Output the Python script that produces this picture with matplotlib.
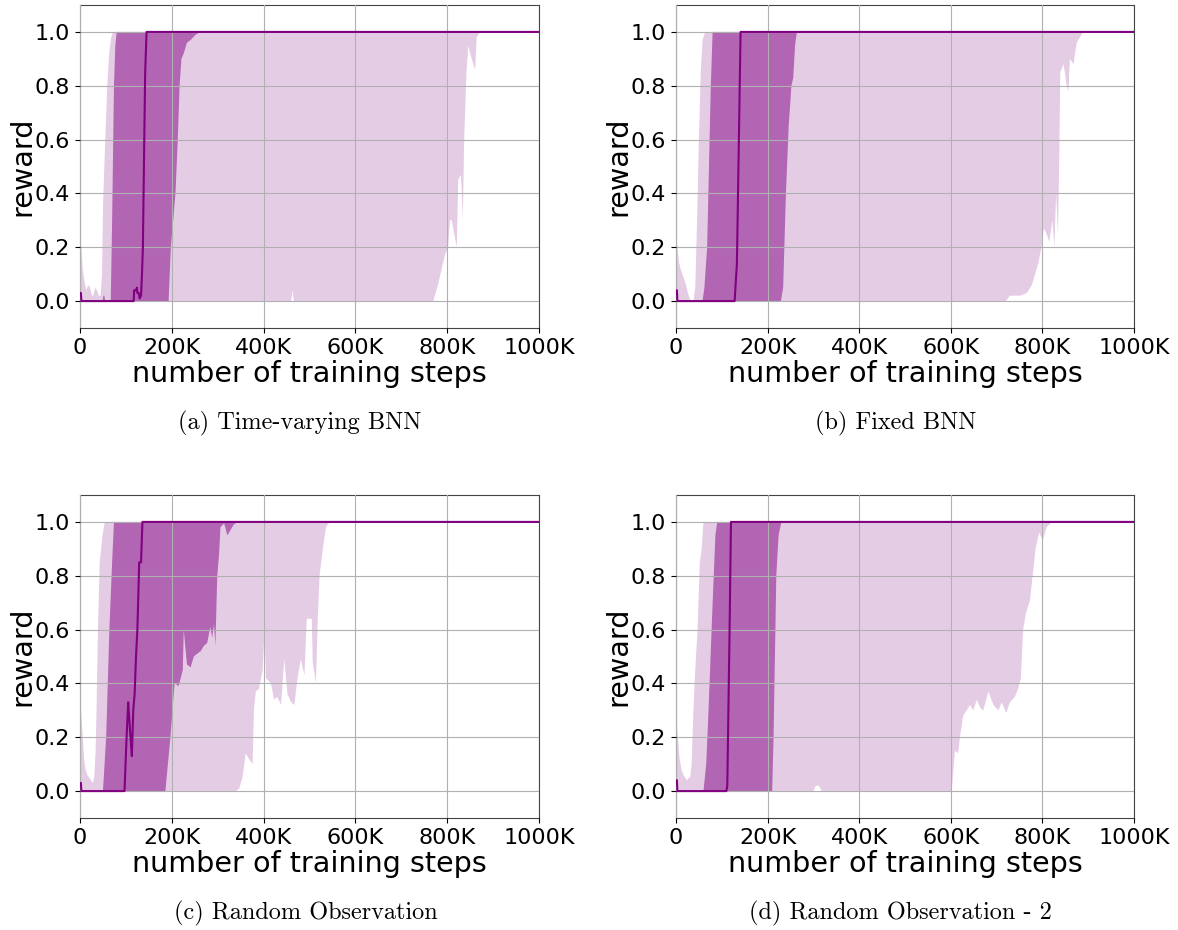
import matplotlib
matplotlib.use("Agg")
import matplotlib.pyplot as plt

# ---------------- data (x in thousands of training steps) ----------------
XTICKS = [0, 200, 400, 600, 800, 1000]
XTICK_LABELS = ["0", "200K", "400K", "600K", "800K", "1000K"]
YTICKS = [0.0, 0.2, 0.4, 0.6, 0.8, 1.0]
CAPTIONS = ["(a) Time-varying BNN", "(b) Fixed BNN",
            "(c) Random Observation", "(d) Random Observation - 2"]

# (a) Time-varying BNN
A_LIGHT_UP_X = [0, 3, 6, 10, 14, 18, 22, 26, 29, 33, 37, 41, 45, 48, 50, 53, 56, 60, 64, 68, 72, 1000]
A_LIGHT_UP_Y = [0.26, 0.2, 0.12, 0.07, 0.04, 0.06, 0.05, 0.02, 0.02, 0.05, 0.04, 0.02, 0.02, 0.1, 0.35, 0.5, 0.65, 0.82, 0.93, 0.98, 1.0, 1.0]
A_LIGHT_LO_X = [0, 460, 463, 466, 770, 773, 780, 788, 795, 802, 806, 810, 813, 821, 824, 830, 834, 837, 842, 846, 850, 857, 861, 864, 872, 1000]
A_LIGHT_LO_Y = [0, 0, 0.04, 0, 0, 0.02, 0.06, 0.12, 0.17, 0.2, 0.3, 0.3, 0.27, 0.2, 0.45, 0.47, 0.3, 0.6, 0.85, 0.95, 0.92, 0.88, 0.86, 0.98, 1.0, 1.0]
A_DARK_UP_X = [0, 49, 51, 53, 55, 67, 70, 74, 77, 80, 1000]
A_DARK_UP_Y = [0, 0, 0.02, 0.02, 0, 0, 0.3, 0.8, 0.95, 1.0, 1.0]
A_DARK_LO_X = [0, 193, 198, 208, 213, 217, 221, 226, 233, 241, 252, 263, 1000]
A_DARK_LO_Y = [0, 0, 0.2, 0.4, 0.6, 0.8, 0.9, 0.92, 0.96, 0.97, 0.99, 1.0, 1.0]
A_MED_X = [0, 2, 3, 117, 118, 122, 124, 125, 128, 130, 132, 133, 135, 137, 140, 142, 145, 1000]
A_MED_Y = [0.03, 0.03, 0, 0, 0.04, 0.04, 0.05, 0.03, 0.03, 0.01, 0.02, 0.02, 0.1, 0.2, 0.6, 0.85, 1.0, 1.0]

# (b) Fixed BNN
B_LIGHT_UP_X = [0, 3, 6, 10, 14, 18, 22, 26, 30, 34, 38, 42, 46, 50, 54, 58, 64, 1000]
B_LIGHT_UP_Y = [0.25, 0.2, 0.15, 0.12, 0.1, 0.08, 0.06, 0.03, 0.01, 0.0, 0.0, 0.05, 0.3, 0.6, 0.85, 0.97, 1.0, 1.0]
B_LIGHT_LO_X = [0, 720, 729, 751, 766, 777, 784, 791, 798, 803, 809, 815, 822, 826, 830, 834, 837, 839, 846, 849, 853, 857, 860, 868, 875, 882, 889, 1000]
B_LIGHT_LO_Y = [0, 0, 0.02, 0.02, 0.03, 0.06, 0.1, 0.14, 0.2, 0.27, 0.25, 0.22, 0.3, 0.2, 0.4, 0.25, 0.55, 0.85, 0.88, 0.85, 0.8, 0.78, 0.9, 0.88, 0.96, 0.98, 1.0, 1.0]
B_DARK_UP_X = [0, 58, 62, 68, 72, 76, 80, 1000]
B_DARK_UP_Y = [0, 0, 0.05, 0.2, 0.5, 0.8, 1.0, 1.0]
B_DARK_LO_X = [0, 229, 234, 240, 246, 252, 256, 260, 264, 1000]
B_DARK_LO_Y = [0, 0, 0.05, 0.4, 0.65, 0.8, 0.83, 0.95, 1.0, 1.0]
B_MED_X = [0, 2, 3, 128, 133, 141, 1000]
B_MED_Y = [0.04, 0.04, 0, 0, 0.14, 1.0, 1.0]

# (c) Random Observation
C_LIGHT_UP_X = [0, 3, 6, 9, 12, 16, 20, 24, 28, 31, 34, 36, 39, 43, 49, 54, 1000]
C_LIGHT_UP_Y = [0.35, 0.28, 0.2, 0.12, 0.08, 0.06, 0.05, 0.04, 0.03, 0.05, 0.15, 0.3, 0.6, 0.85, 0.95, 1.0, 1.0]
C_LIGHT_LO_X = [0, 340, 347, 354, 361, 368, 376, 379, 383, 390, 398, 402, 405, 416, 423, 430, 438, 445, 452, 460, 467, 474, 481, 489, 494, 505, 507, 514, 518, 522, 529, 536, 544, 1000]
C_LIGHT_LO_Y = [0, 0, 0.01, 0.05, 0.14, 0.12, 0.1, 0.3, 0.37, 0.38, 0.45, 0.6, 0.42, 0.4, 0.34, 0.35, 0.32, 0.49, 0.36, 0.33, 0.32, 0.42, 0.49, 0.43, 0.64, 0.64, 0.48, 0.4, 0.64, 0.8, 0.9, 0.98, 1.0, 1.0]
C_DARK_UP_X = [0, 50, 57, 64, 70, 74, 1000]
C_DARK_UP_Y = [0, 0, 0.2, 0.6, 0.85, 1.0, 1.0]
C_DARK_LO_X = [0, 186, 197, 206, 215, 224, 226, 233, 241, 248, 255, 263, 270, 277, 284, 288, 292, 295, 299, 303, 306, 314, 321, 328, 335, 343, 1000]
C_DARK_LO_Y = [0, 0, 0.2, 0.4, 0.39, 0.45, 0.6, 0.47, 0.46, 0.5, 0.51, 0.52, 0.54, 0.55, 0.61, 0.57, 0.62, 0.54, 0.8, 0.88, 0.98, 0.995, 0.95, 0.97, 0.99, 1.0, 1.0]
C_MED_X = [0, 2, 3, 97, 101, 105, 107, 110, 113, 116, 119, 122, 125, 129, 133, 136, 1000]
C_MED_Y = [0.03, 0.03, 0, 0, 0.18, 0.33, 0.28, 0.2, 0.13, 0.3, 0.36, 0.5, 0.6, 0.85, 0.85, 1.0, 1.0]

# (d) Random Observation - 2
D_LIGHT_UP_X = [0, 4, 8, 12, 16, 20, 24, 28, 31, 34, 38, 42, 47, 52, 56, 60, 1000]
D_LIGHT_UP_Y = [0.28, 0.2, 0.12, 0.08, 0.06, 0.05, 0.04, 0.05, 0.05, 0.1, 0.3, 0.45, 0.6, 0.85, 0.9, 1.0, 1.0]
D_LIGHT_LO_X = [0, 300, 305, 312, 318, 602, 609, 616, 620, 627, 635, 642, 649, 657, 664, 671, 682, 693, 704, 711, 721, 729, 740, 747, 753, 758, 764, 773, 785, 793, 801, 809, 821, 1000]
D_LIGHT_LO_Y = [0, 0, 0.02, 0.02, 0, 0, 0.15, 0.14, 0.2, 0.28, 0.3, 0.32, 0.3, 0.34, 0.31, 0.3, 0.37, 0.32, 0.3, 0.33, 0.29, 0.33, 0.35, 0.38, 0.42, 0.6, 0.66, 0.71, 0.9, 0.96, 0.93, 0.98, 1.0, 1.0]
D_DARK_UP_X = [0, 60, 66, 71, 80, 86, 90, 1000]
D_DARK_UP_Y = [0, 0, 0.1, 0.3, 0.7, 0.95, 1.0, 1.0]
D_DARK_LO_X = [0, 210, 213, 216, 219, 224, 230, 1000]
D_DARK_LO_Y = [0, 0, 0.2, 0.5, 0.8, 0.95, 1.0, 1.0]
D_MED_X = [0, 2, 3, 110, 112, 117, 120, 1000]
D_MED_Y = [0.04, 0.04, 0, 0, 0.02, 0.6, 1.0, 1.0]

PANELS = [
    (A_LIGHT_UP_X, A_LIGHT_UP_Y, A_LIGHT_LO_X, A_LIGHT_LO_Y, A_DARK_UP_X, A_DARK_UP_Y, A_DARK_LO_X, A_DARK_LO_Y, A_MED_X, A_MED_Y),
    (B_LIGHT_UP_X, B_LIGHT_UP_Y, B_LIGHT_LO_X, B_LIGHT_LO_Y, B_DARK_UP_X, B_DARK_UP_Y, B_DARK_LO_X, B_DARK_LO_Y, B_MED_X, B_MED_Y),
    (C_LIGHT_UP_X, C_LIGHT_UP_Y, C_LIGHT_LO_X, C_LIGHT_LO_Y, C_DARK_UP_X, C_DARK_UP_Y, C_DARK_LO_X, C_DARK_LO_Y, C_MED_X, C_MED_Y),
    (D_LIGHT_UP_X, D_LIGHT_UP_Y, D_LIGHT_LO_X, D_LIGHT_LO_Y, D_DARK_UP_X, D_DARK_UP_Y, D_DARK_LO_X, D_DARK_LO_Y, D_MED_X, D_MED_Y),
]

COLOR = "#800080"

W, H = 1178, 930
fig = plt.figure(figsize=(W / 100, H / 100), dpi=100)

# axes boxes in pixels: left, top, right, bottom
BOXES = [(80, 5, 539, 328), (676, 5, 1134, 328), (80, 495, 539, 818), (676, 495, 1134, 818)]
CAP_POS = [(300, 423), (896, 423), (306, 913), (900, 913)]


def band(ax, ux, uy, lx, ly, alpha):
    px = list(ux) + list(reversed(lx))
    py = list(uy) + list(reversed(ly))
    ax.fill(px, py, color=COLOR, alpha=alpha, linewidth=0, zorder=1)


for i, (box, data) in enumerate(zip(BOXES, PANELS)):
    l, t, r, b = box
    ax = fig.add_axes([l / W, 1 - b / H, (r - l) / W, (b - t) / H])
    lux, luy, llx, lly, dux, duy, dlx, dly, mx, my = data
    band(ax, lux, luy, llx, lly, 0.2)
    band(ax, dux, duy, dlx, dly, 0.5)
    ax.plot(mx, my, color=COLOR, linewidth=1.5, zorder=3)
    ax.set_xlim(0, 1000)
    ax.set_ylim(-0.1, 1.1)
    ax.set_xticks(XTICKS)
    ax.set_xticklabels(XTICK_LABELS)
    ax.set_yticks(YTICKS)
    ax.set_yticklabels([f"{v:.1f}" for v in YTICKS])
    ax.tick_params(labelsize=16)
    for s in ax.spines.values():
        s.set_color("#444444")
    ax.grid(True, color="#b0b0b0", linewidth=0.8)
    ax.set_axisbelow(False)
    ax.set_xlabel("number of training steps", fontsize=20.6, labelpad=2)
    ax.set_ylabel("reward", fontsize=20.6, labelpad=-1)
    cx, cy = CAP_POS[i]
    fig.text(cx / W, 1 - cy / H, CAPTIONS[i], ha="center", va="center",
             fontsize=17.5, family=["cmr10", "DejaVu Serif"])

fig.savefig("out.png", dpi=100)
